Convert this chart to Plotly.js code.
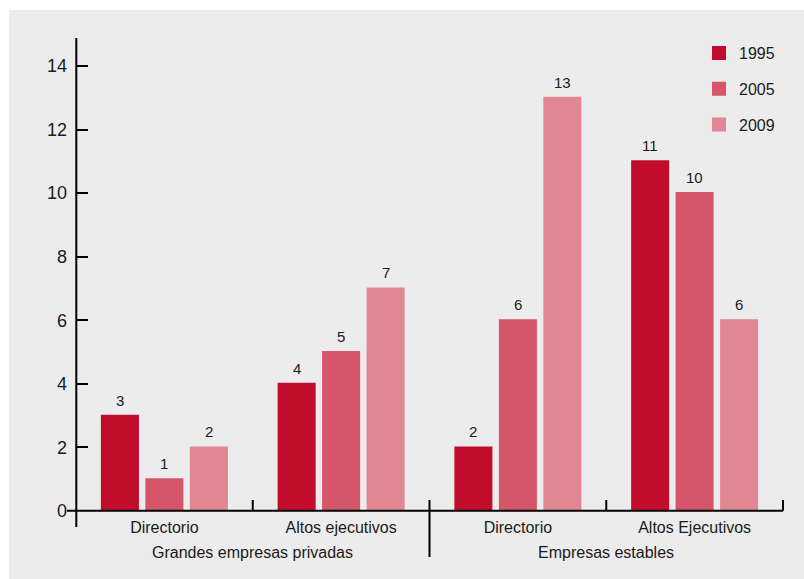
<!DOCTYPE html>
<html>
<head>
<meta charset="utf-8">
<script src="https://cdn.plot.ly/plotly-3.0.1.min.js"></script>
<style>
  html, body { margin: 0; padding: 0; background: #ffffff; }
  #chart { position: absolute; left: 9px; top: 10px; width: 795px; height: 569px; }
</style>
</head>
<body>
<div id="chart"></div>
<script>
// ---- data ----
const categories = ["Directorio", "Altos ejecutivos", "Directorio", "Altos Ejecutivos"];
const groups = ["Grandes empresas privadas", "Empresas estables"];
const seriesNames = ["1995", "2005", "2009"];
const values1995 = [3, 4, 2, 11];
const values2005 = [1, 5, 6, 10];
const values2009 = [2, 7, 13, 6];
const yTicks = [0, 2, 4, 6, 8, 10, 12, 14];

// ---- style ----
const FONT = '"Liberation Sans Narrow", "Arial Narrow", "Liberation Sans", Arial, sans-serif';
const TXT = '#1a1a1a';
const colors = ['#c20c2c', '#d5566a', '#e18794'];
const W = 795, H = 569;
const M = {l: 67, r: 21, t: 28, b: 68};
const PW = W - M.l - M.r, PH = H - M.t - M.b;
const xRange = [-0.5, 3.5];
const yRange = [0, 14.88];
const BARGAP = 0.245, BARGROUPGAP = 0.19;
const px = c => (c - M.l) / PW;          // container px -> paper x
const py = c => (H - M.b - c) / PH;      // container px -> paper y
const xv = v => (v - xRange[0]) / (xRange[1] - xRange[0]); // data x -> paper x
const xIdx = categories.map((_, i) => i);

const allValues = [values1995, values2005, values2009];
const traces = allValues.map((vals, k) => ({
  type: 'bar',
  name: seriesNames[k],
  x: xIdx,
  y: vals,
  marker: {color: colors[k], line: {color: colors[k], width: 2}},
  legendgroup: 'g' + k,
  hoverinfo: 'skip'
}));

const zeroY = H - M.b - 0.3; // container y of x-axis line
const shapes = [];
// x axis line (extends a little to the left of the y axis)
shapes.push({type: 'line', xref: 'paper', yref: 'paper', x0: px(58), x1: xv(3.5), y0: py(zeroY), y1: py(zeroY), line: {color: '#000', width: 2}});
// y axis line (extends below the x axis)
shapes.push({type: 'line', xref: 'paper', yref: 'paper', x0: px(67.3), x1: px(67.3), y0: 1, y1: py(517), line: {color: '#000', width: 2}});
// separators at category boundaries
[0.5, 1.5, 2.5, 3.5].forEach(b => {
  const major = (b === 1.5);
  shapes.push({type: 'line', xref: 'paper', yref: 'paper', x0: xv(b), x1: xv(b), y0: py(490), y1: py(major ? 547 : zeroY), line: {color: '#000', width: 2}});
});

const annotations = [
  {text: groups[0], x: 0.5, xref: 'x', y: py(542), yref: 'paper', yanchor: 'middle', showarrow: false, font: {family: FONT, size: 16, color: TXT}},
  {text: groups[1], x: 2.5, xref: 'x', y: py(542), yref: 'paper', yanchor: 'middle', showarrow: false, font: {family: FONT, size: 16, color: TXT}}
];
// value labels above bars
const catPx = PW / (xRange[1] - xRange[0]);
const slotPx = catPx * (1 - BARGAP) / allValues.length;
allValues.forEach((vals, k) => {
  vals.forEach((v, i) => {
    annotations.push({
      text: String(v), x: xIdx[i], y: v, xref: 'x', yref: 'y',
      xshift: (k - (allValues.length - 1) / 2) * slotPx,
      yanchor: 'bottom', yshift: 5, showarrow: false,
      font: {family: FONT, size: 15, color: TXT}
    });
  });
});

const layout = {
  width: W, height: H,
  margin: M,
  paper_bgcolor: '#ececec',
  plot_bgcolor: 'rgba(0,0,0,0)',
  barmode: 'group',
  bargap: BARGAP,
  bargroupgap: BARGROUPGAP,
  showlegend: true,
  legend: {
    x: px(690), y: py(26), xanchor: 'left', yanchor: 'top',
    bgcolor: 'rgba(0,0,0,0)', borderwidth: 0,
    font: {family: FONT, size: 16, color: TXT},
    traceorder: 'grouped', tracegroupgap: 12
  },
  xaxis: {
    range: xRange, tickvals: xIdx, ticktext: categories,
    showgrid: false, zeroline: false, showline: false, ticks: '',
    tickfont: {family: FONT, size: 16, color: TXT},
    ticklabelstandoff: 5,
    fixedrange: true
  },
  yaxis: {
    range: yRange, tickvals: yTicks,
    showgrid: false, zeroline: false, showline: false,
    ticks: 'inside', ticklen: 12, tickwidth: 2, tickcolor: '#000',
    tickfont: {family: FONT, size: 18, color: TXT},
    ticklabelstandoff: 8,
    fixedrange: true
  },
  shapes: shapes,
  annotations: annotations,
  font: {family: FONT, color: TXT}
};

Plotly.newPlot('chart', traces, layout, {displayModeBar: false, staticPlot: true});
</script>
</body>
</html>
